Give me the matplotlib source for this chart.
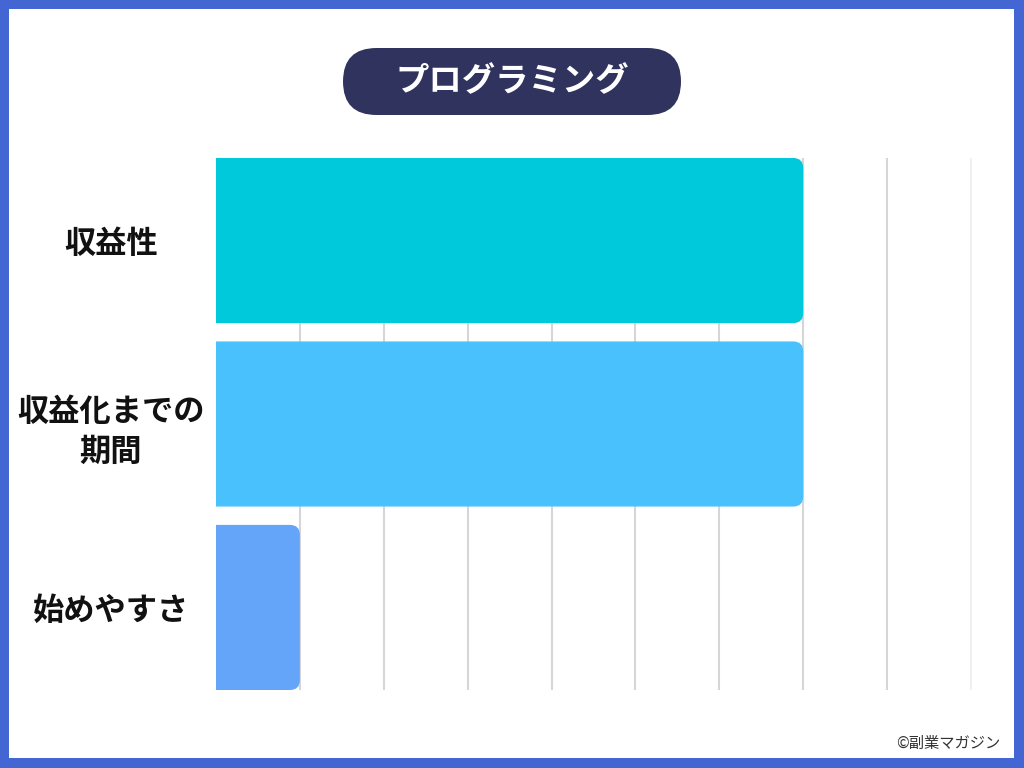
import matplotlib
matplotlib.use("Agg")
import matplotlib.pyplot as plt
from matplotlib.patches import FancyBboxPatch, Rectangle

plt.rcParams['font.family'] = ['Noto Sans CJK JP', 'DejaVu Sans']

# data
title = 'プログラミング'
categories = ['収益性', '収益化までの\n期間', '始めやすさ']
values = [7, 7, 1]
bar_colors = ['#00C9DB', '#48C1FD', '#65A5F9']
x_max = 9
credit = '©副業マガジン'

W, H = 1024, 768
fig = plt.figure(figsize=(W / 100, H / 100), dpi=100)
fig.patch.set_facecolor('#4466D2')

# white card inside the blue border (drawn below the axes)
fig.patches.append(Rectangle((9 / W, 10 / H), (1014 - 9) / W, (758 - 9) / H,
                             transform=fig.transFigure, facecolor='white',
                             edgecolor='none', zorder=-10))

# title pill
pw, ph = 338, 67
pill = FancyBboxPatch(((512 - pw / 2) / W, 1 - (48 + ph) / H), pw / W, ph / H,
                      boxstyle=f"round,pad=0,rounding_size={ph / 2 / W}",
                      mutation_aspect=W / H, transform=fig.transFigure,
                      facecolor='#31335F', edgecolor='none', zorder=1)
fig.patches.append(pill)
fig.text(0.5, 1 - 81.5 / H, title, color='white', fontsize=24,
         fontweight='bold', ha='center', va='center', zorder=2)

# axes
left, right, top, bottom = 216, 972, 158, 690
ax = fig.add_axes([left / W, 1 - bottom / H, (right - left) / W, (bottom - top) / H])
ax.set_facecolor('none')
bar_h = 0.9
n = len(categories)
ax.set_xlim(0, x_max * (right - left) / (971 - left))
ax.set_ylim(n - 1 + bar_h / 2, -bar_h / 2)

px_x = (971 - left) / x_max
px_y = (bottom - top) / (n - 1 + bar_h)
r = 10 / px_x
for i, (v, c) in enumerate(zip(values, bar_colors)):
    p = FancyBboxPatch((-0.5, i - bar_h / 2), v + 0.5, bar_h,
                       boxstyle=f"round,pad=0,rounding_size={r}",
                       mutation_aspect=px_x / px_y,
                       facecolor=c, edgecolor='none', zorder=3)
    ax.add_patch(p)

grid_x = list(range(1, x_max + 1))
for gx in grid_x:
    col = '#F0F0F0' if gx == x_max else '#D6D6D6'
    ax.axvline(gx, color=col, lw=1.5, zorder=1)

ax.set_xticks([])
ax.set_yticks(range(n))
ax.set_yticklabels(categories, fontsize=22.5, fontweight='bold', color='#111111',
                   linespacing=1.35)
for lab in ax.get_yticklabels():
    lab.set_ha('center')
ax.tick_params(axis='y', length=0, pad=(left - 111) * 0.72)
for s in ax.spines.values():
    s.set_visible(False)

fig.text(1000 / W, 1 - 743 / H, credit, fontsize=11, color='#333333',
         ha='right', va='center')

fig.savefig('out.png', dpi=100, facecolor=fig.get_facecolor())
